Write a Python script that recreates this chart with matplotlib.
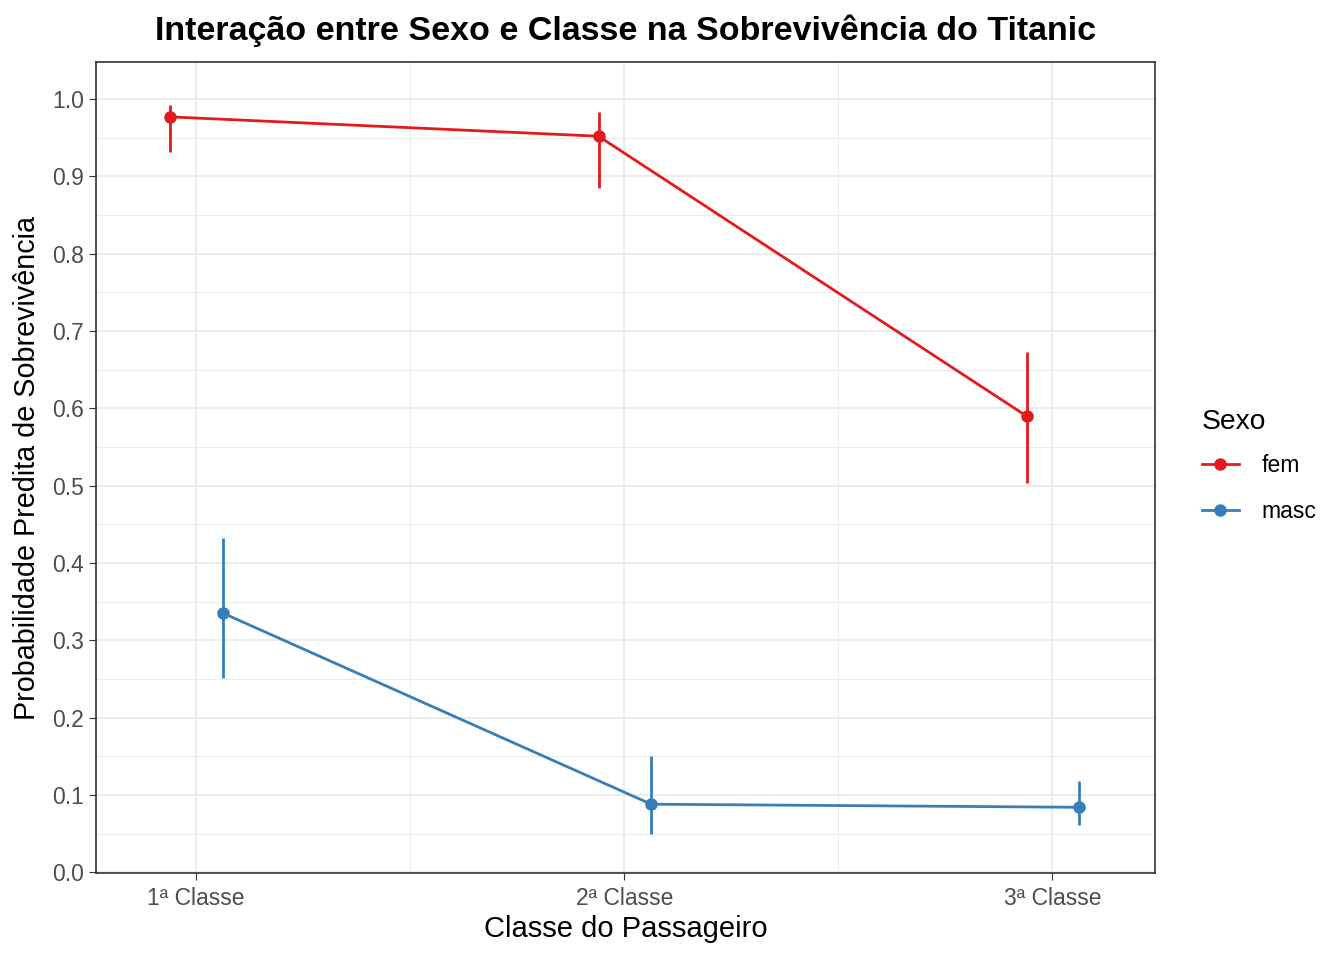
import numpy as np
import matplotlib
matplotlib.use("Agg")
from matplotlib import pyplot as plt
from matplotlib.ticker import MultipleLocator

plt.rcParams["font.family"] = ["Liberation Sans", "DejaVu Sans"]

# Data
classes = ["1ª Classe", "2ª Classe", "3ª Classe"]
sexes = ["fem", "masc"]
colors = {"fem": "#E41A1C", "masc": "#377EB8"}
prob = {"fem": [0.977, 0.952, 0.590], "masc": [0.335, 0.088, 0.084]}
lower = {"fem": [0.931, 0.885, 0.503], "masc": [0.251, 0.050, 0.061]}
upper = {"fem": [0.992, 0.983, 0.673], "masc": [0.432, 0.150, 0.118]}
dodge = {"fem": -0.06, "masc": 0.063}

fig = plt.figure(figsize=(13.44, 9.6), dpi=100)
ax = fig.add_axes([96 / 1344, 87 / 960, (1155 - 96) / 1344, (873 - 62) / 960])

x = np.arange(1, len(classes) + 1)
for s in sexes:
    xs = x + dodge[s]
    p = np.array(prob[s])
    lo = np.array(lower[s])
    hi = np.array(upper[s])
    ax.plot(xs, p, color=colors[s], lw=2, zorder=3)
    ax.vlines(xs, lo, hi, color=colors[s], lw=2, zorder=3)
    ax.plot(xs, p, "o", color=colors[s], ms=8, zorder=4)
    ax.plot([], [], "-o", color=colors[s], lw=2, ms=8, label=s)

ax.set_xlim(0.766, 3.24)
ax.set_ylim(-0.001, 1.048)
ax.set_xticks(x)
ax.set_xticklabels(classes)
ax.xaxis.set_minor_locator(MultipleLocator(0.5))
ax.yaxis.set_major_locator(MultipleLocator(0.1))
ax.yaxis.set_minor_locator(MultipleLocator(0.05))
ax.set_yticklabels([f"{v:.1f}" for v in ax.get_yticks()])
ax.grid(which="major", color="#EBEBEB", lw=1.3)
ax.grid(which="minor", color="#EBEBEB", lw=0.7)
ax.set_axisbelow(True)
for sp in ax.spines.values():
    sp.set_color("#333333")
    sp.set_linewidth(1.2)
ax.tick_params(which="major", length=5, color="#333333", labelsize=16.5, labelcolor="#4D4D4D")
ax.tick_params(axis="x", pad=5)
ax.tick_params(which="minor", length=0)

ax.set_xlabel("Classe do Passageiro", fontsize=21, labelpad=4)
ax.set_ylabel("Probabilidade Predita de Sobrevivência", fontsize=20.7, labelpad=8)
ax.set_title("Interação entre Sexo e Classe na Sobrevivência do Titanic",
             fontsize=24.5, fontweight="bold", pad=16)

leg = ax.legend(title="Sexo", loc="center left", bbox_to_anchor=(1.025, 0.502),
                frameon=False, fontsize=16.5, title_fontsize=20.3,
                handlelength=1.6, handletextpad=1.0, labelspacing=1.0)
leg._legend_box.align = "left"
leg._legend_box.sep = 14

fig.savefig("out.png", dpi=100)
